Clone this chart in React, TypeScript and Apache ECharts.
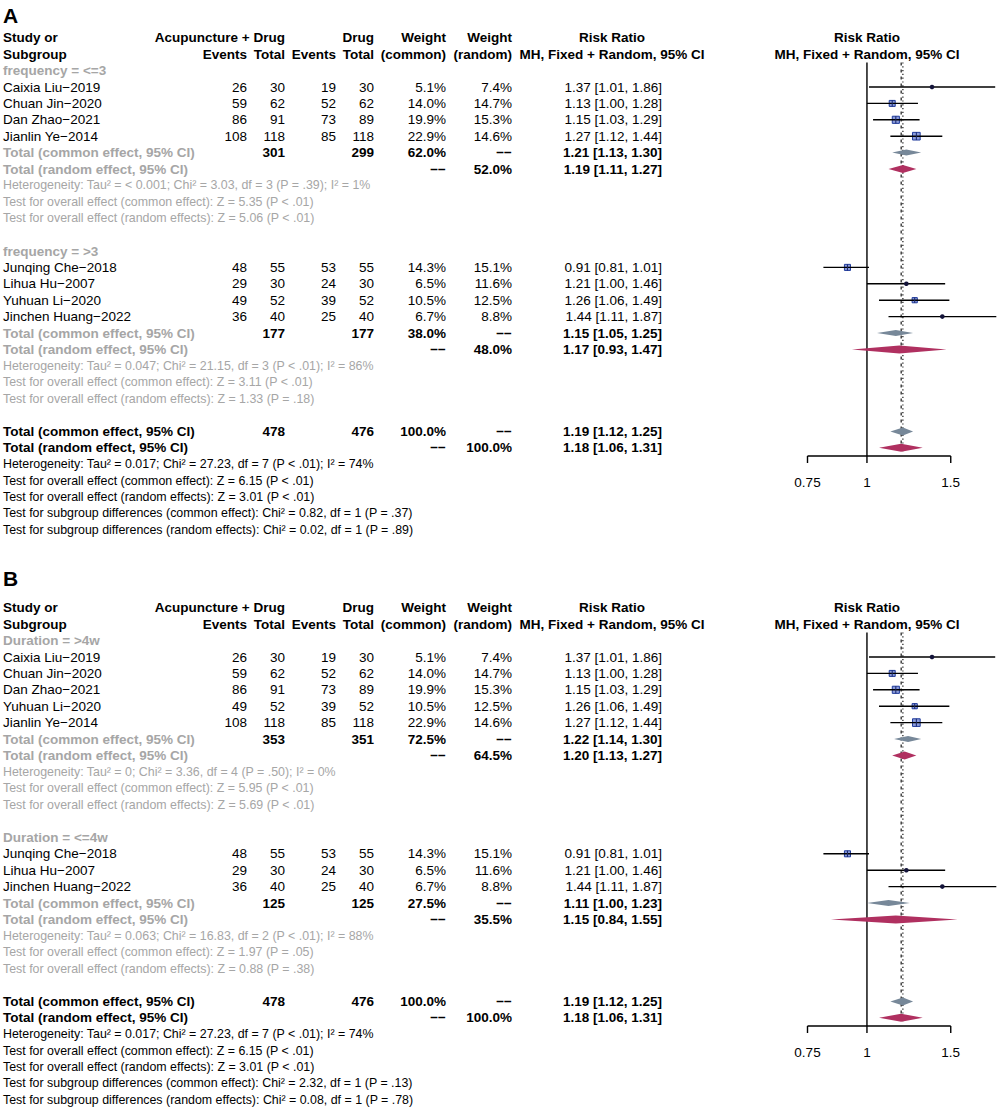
import React, { useEffect, useRef } from "react";
import * as echarts from "echarts";

// ---------- data ----------
const studies = [
  "Caixia Liu−2019",
  "Chuan Jin−2020",
  "Dan Zhao−2021",
  "Jianlin Ye−2014",
  "Junqing Che−2018",
  "Lihua Hu−2007",
  "Yuhuan Li−2020",
  "Jinchen Huang−2022",
];
const eventsExp = [26, 59, 86, 108, 48, 29, 49, 36];
const totalExp = [30, 62, 91, 118, 55, 30, 52, 40];
const eventsCtl = [19, 52, 73, 85, 53, 24, 39, 25];
const totalCtl = [30, 62, 89, 118, 55, 30, 52, 40];
const weightCommon = [5.1, 14.0, 19.9, 22.9, 14.3, 6.5, 10.5, 6.7];
const weightRandom = [7.4, 14.7, 15.3, 14.6, 15.1, 11.6, 12.5, 8.8];
const riskRatio = [1.37, 1.13, 1.15, 1.27, 0.91, 1.21, 1.26, 1.44];
const ciLower = [1.01, 1.0, 1.03, 1.12, 0.81, 1.0, 1.06, 1.11];
const ciUpper = [1.86, 1.28, 1.29, 1.44, 1.01, 1.46, 1.49, 1.87];

// panel A
const groupsA = [[0, 1, 2, 3], [4, 5, 6, 7]];
const groupLabelsA = ["frequency = <=3", "frequency = >3"];
const groupTotalExpA = [301, 177];
const groupTotalCtlA = [299, 177];
const groupWeightCommonA = [62.0, 38.0];
const groupWeightRandomA = [52.0, 48.0];
const groupCommonA = [[1.21, 1.13, 1.3], [1.15, 1.05, 1.25]];
const groupRandomA = [[1.19, 1.11, 1.27], [1.17, 0.93, 1.47]];
const groupHetA = [
  "Heterogeneity: Tau² = < 0.001; Chi² = 3.03, df = 3 (P = .39); I² = 1%",
  "Heterogeneity: Tau² = 0.047; Chi² = 21.15, df = 3 (P < .01); I² = 86%",
];
const groupTestCommonA = [
  "Test for overall effect (common effect): Z = 5.35 (P < .01)",
  "Test for overall effect (common effect): Z = 3.11 (P < .01)",
];
const groupTestRandomA = [
  "Test for overall effect (random effects): Z = 5.06 (P < .01)",
  "Test for overall effect (random effects): Z = 1.33 (P = .18)",
];
const subgroupDiffA = [
  "Test for subgroup differences (common effect): Chi² = 0.82, df = 1 (P = .37)",
  "Test for subgroup differences (random effects): Chi² = 0.02, df = 1 (P = .89)",
];

// panel B
const groupsB = [[0, 1, 2, 6, 3], [4, 5, 7]];
const groupLabelsB = ["Duration = >4w", "Duration = <=4w"];
const groupTotalExpB = [353, 125];
const groupTotalCtlB = [351, 125];
const groupWeightCommonB = [72.5, 27.5];
const groupWeightRandomB = [64.5, 35.5];
const groupCommonB = [[1.22, 1.14, 1.3], [1.11, 1.0, 1.23]];
const groupRandomB = [[1.2, 1.13, 1.27], [1.15, 0.84, 1.55]];
const groupHetB = [
  "Heterogeneity: Tau² = 0; Chi² = 3.36, df = 4 (P = .50); I² = 0%",
  "Heterogeneity: Tau² = 0.063; Chi² = 16.83, df = 2 (P < .01); I² = 88%",
];
const groupTestCommonB = [
  "Test for overall effect (common effect): Z = 5.95 (P < .01)",
  "Test for overall effect (common effect): Z = 1.97 (P = .05)",
];
const groupTestRandomB = [
  "Test for overall effect (random effects): Z = 5.69 (P < .01)",
  "Test for overall effect (random effects): Z = 0.88 (P = .38)",
];
const subgroupDiffB = [
  "Test for subgroup differences (common effect): Chi² = 2.32, df = 1 (P = .13)",
  "Test for subgroup differences (random effects): Chi² = 0.08, df = 1 (P = .78)",
];

// overall (same in both panels)
const overallTotalExp = 478;
const overallTotalCtl = 476;
const overallCommon = [1.19, 1.12, 1.25];
const overallRandom = [1.18, 1.06, 1.31];
const overallHet = "Heterogeneity: Tau² = 0.017; Chi² = 27.23, df = 7 (P < .01); I² = 74%";
const overallTests = [
  "Test for overall effect (common effect): Z = 6.15 (P < .01)",
  "Test for overall effect (random effects): Z = 3.01 (P < .01)",
];

const panelLabels = ["A", "B"];
const tickValues = [0.75, 1, 1.5];
const tickLabels = ["0.75", "1", "1.5"];

// ---------- layout / style ----------
const FONT = '"Liberation Sans", Arial, Helvetica, sans-serif';
const FS = 13.5;
const FS_SMALL = 12.4;
const GRAY = "#a6a6a6";
const DASH = "−−";
const COL = { study: 3, ee: 247, te: 285, ec: 336, tc: 374, wc: 446, wr: 512, rr: 662, rrHead: 612, plotHead: 867 };

type Cell = { t: string; x: number; a: string; b?: boolean; c?: string; s?: number };
type Row = { row: number; cells: Cell[] };

const pct = (v: number) => v.toFixed(1) + "%";
const ci = (v: number[]) => `${v[0].toFixed(2)} [${v[1].toFixed(2)}, ${v[2].toFixed(2)}]`;

function buildPanel(
  groups: number[][],
  labels: string[],
  gTotE: number[],
  gTotC: number[],
  gWC: number[],
  gWR: number[],
  gCom: number[][],
  gRan: number[][],
  gHet: string[],
  gTC: string[],
  gTR: string[],
  subDiff: string[]
) {
  const rows: Row[] = [];
  const marks: number[][] = [];
  const diamonds: number[][] = [];
  rows.push({
    row: -3,
    cells: [
      { t: "Study or", x: COL.study, a: "left", b: true },
      { t: "Acupuncture + Drug", x: COL.te, a: "right", b: true },
      { t: "Drug", x: COL.tc, a: "right", b: true },
      { t: "Weight", x: COL.wc, a: "right", b: true },
      { t: "Weight", x: COL.wr, a: "right", b: true },
      { t: "Risk Ratio", x: COL.rrHead, a: "center", b: true },
      { t: "Risk Ratio", x: COL.plotHead, a: "center", b: true },
    ],
  });
  rows.push({
    row: -2,
    cells: [
      { t: "Subgroup", x: COL.study, a: "left", b: true },
      { t: "Events", x: COL.ee, a: "right", b: true },
      { t: "Total", x: COL.te, a: "right", b: true },
      { t: "Events", x: COL.ec, a: "right", b: true },
      { t: "Total", x: COL.tc, a: "right", b: true },
      { t: "(common)", x: COL.wc, a: "right", b: true },
      { t: "(random)", x: COL.wr, a: "right", b: true },
      { t: "MH, Fixed + Random, 95% CI", x: COL.rrHead, a: "center", b: true },
      { t: "MH, Fixed + Random, 95% CI", x: COL.plotHead, a: "center", b: true },
    ],
  });
  let r = -1;
  groups.forEach((g, gi) => {
    rows.push({ row: r, cells: [{ t: labels[gi], x: COL.study, a: "left", b: true, c: GRAY }] });
    r++;
    g.forEach((si) => {
      rows.push({
        row: r,
        cells: [
          { t: studies[si], x: COL.study, a: "left" },
          { t: String(eventsExp[si]), x: COL.ee, a: "right" },
          { t: String(totalExp[si]), x: COL.te, a: "right" },
          { t: String(eventsCtl[si]), x: COL.ec, a: "right" },
          { t: String(totalCtl[si]), x: COL.tc, a: "right" },
          { t: pct(weightCommon[si]), x: COL.wc, a: "right" },
          { t: pct(weightRandom[si]), x: COL.wr, a: "right" },
          { t: ci([riskRatio[si], ciLower[si], ciUpper[si]]), x: COL.rr, a: "right" },
        ],
      });
      marks.push([riskRatio[si], r, ciLower[si], ciUpper[si], weightCommon[si]]);
      r++;
    });
    rows.push({
      row: r,
      cells: [
        { t: "Total (common effect, 95% CI)", x: COL.study, a: "left", b: true, c: GRAY },
        { t: String(gTotE[gi]), x: COL.te, a: "right", b: true },
        { t: String(gTotC[gi]), x: COL.tc, a: "right", b: true },
        { t: pct(gWC[gi]), x: COL.wc, a: "right", b: true },
        { t: DASH, x: COL.wr, a: "right", b: true },
        { t: ci(gCom[gi]), x: COL.rr, a: "right", b: true },
      ],
    });
    diamonds.push([gCom[gi][0], r, gCom[gi][1], gCom[gi][2], 0, 6]);
    rows.push({
      row: r + 1,
      cells: [
        { t: "Total (random effect, 95% CI)", x: COL.study, a: "left", b: true, c: GRAY },
        { t: DASH, x: COL.wc, a: "right", b: true },
        { t: pct(gWR[gi]), x: COL.wr, a: "right", b: true },
        { t: ci(gRan[gi]), x: COL.rr, a: "right", b: true },
      ],
    });
    diamonds.push([gRan[gi][0], r + 1, gRan[gi][1], gRan[gi][2], 1, 8]);
    rows.push({ row: r + 2, cells: [{ t: gHet[gi], x: COL.study, a: "left", c: GRAY, s: FS_SMALL }] });
    rows.push({ row: r + 3, cells: [{ t: gTC[gi], x: COL.study, a: "left", c: GRAY, s: FS_SMALL }] });
    rows.push({ row: r + 4, cells: [{ t: gTR[gi], x: COL.study, a: "left", c: GRAY, s: FS_SMALL }] });
    r += 6;
  });
  rows.push({
    row: r,
    cells: [
      { t: "Total (common effect, 95% CI)", x: COL.study, a: "left", b: true },
      { t: String(overallTotalExp), x: COL.te, a: "right", b: true },
      { t: String(overallTotalCtl), x: COL.tc, a: "right", b: true },
      { t: pct(100), x: COL.wc, a: "right", b: true },
      { t: DASH, x: COL.wr, a: "right", b: true },
      { t: ci(overallCommon), x: COL.rr, a: "right", b: true },
    ],
  });
  diamonds.push([overallCommon[0], r, overallCommon[1], overallCommon[2], 0, 8]);
  rows.push({
    row: r + 1,
    cells: [
      { t: "Total (random effect, 95% CI)", x: COL.study, a: "left", b: true },
      { t: DASH, x: COL.wc, a: "right", b: true },
      { t: pct(100), x: COL.wr, a: "right", b: true },
      { t: ci(overallRandom), x: COL.rr, a: "right", b: true },
    ],
  });
  diamonds.push([overallRandom[0], r + 1, overallRandom[1], overallRandom[2], 1, 8]);
  rows.push({ row: r + 2, cells: [{ t: overallHet, x: COL.study, a: "left", s: FS_SMALL }] });
  rows.push({ row: r + 3, cells: [{ t: overallTests[0], x: COL.study, a: "left", s: FS_SMALL }] });
  rows.push({ row: r + 4, cells: [{ t: overallTests[1], x: COL.study, a: "left", s: FS_SMALL }] });
  rows.push({ row: r + 5, cells: [{ t: subDiff[0], x: COL.study, a: "left", s: FS_SMALL }] });
  rows.push({ row: r + 6, cells: [{ t: subDiff[1], x: COL.study, a: "left", s: FS_SMALL }] });
  const axisRow = r + 1.5;
  return { rows, marks, diamonds, axisRow, topRow: -1.5 };
}

const panels = [
  buildPanel(groupsA, groupLabelsA, groupTotalExpA, groupTotalCtlA, groupWeightCommonA, groupWeightRandomA,
    groupCommonA, groupRandomA, groupHetA, groupTestCommonA, groupTestRandomA, subgroupDiffA),
  buildPanel(groupsB, groupLabelsB, groupTotalExpB, groupTotalCtlB, groupWeightCommonB, groupWeightRandomB,
    groupCommonB, groupRandomB, groupHetB, groupTestCommonB, groupTestRandomB, subgroupDiffB),
];

function textEl(x: number, y: number, t: string, align: string, bold?: boolean, color?: string, size?: number) {
  return {
    type: "text",
    x,
    y,
    style: {
      text: t,
      fill: color || "#000",
      fontSize: size || FS,
      fontWeight: bold ? "bold" : "normal",
      fontFamily: FONT,
      align,
      textAlign: align,
      verticalAlign: "middle",
      textVerticalAlign: "middle",
    },
  };
}

function buildOption() {
  const series: any[] = [];
  panels.forEach((p, pi) => {
    const ax = { xAxisIndex: pi, yAxisIndex: pi, clip: false, silent: true, encode: { x: 0, y: 1 } };
    // reference lines
    series.push({
      ...ax,
      type: "custom",
      z: 1,
      data: [
        [1, p.topRow, p.axisRow, 0],
        [overallCommon[0], p.topRow, p.axisRow - 0.25, 1],
        [overallRandom[0], p.topRow, p.axisRow - 0.25, 2],
      ],
      renderItem: (_params: any, api: any) => {
        const x = api.value(0);
        const kind = api.value(3);
        const a = api.coord([x, api.value(1)]);
        const b = api.coord([x, api.value(2)]);
        return {
          type: "line",
          shape: { x1: a[0], y1: a[1], x2: b[0], y2: b[1] },
          style: {
            stroke: "#000",
            lineWidth: kind === 0 ? 1.4 : 1.1,
            lineDash: kind === 0 ? null : kind === 1 ? [1.2, 2.6] : [3, 4],
          },
        };
      },
    });
    // study CIs and squares
    series.push({
      ...ax,
      type: "custom",
      z: 3,
      data: p.marks,
      renderItem: (_params: any, api: any) => {
        const est = api.value(0);
        const row = api.value(1);
        const w = api.value(4);
        const c = api.coord([est, row]);
        const xl = api.coord([api.value(2), row])[0];
        const xh = api.coord([api.value(3), row])[0];
        const side = 1.6 * Math.sqrt(w);
        const children: any[] = [];
        if (w >= 8) {
          children.push({
            type: "rect",
            shape: { x: c[0] - side / 2, y: c[1] - side / 2, width: side, height: side },
            style: { fill: "#8c9ddb", stroke: "#1f3a9c", lineWidth: 1 },
          });
        }
        children.push({
          type: "line",
          shape: { x1: xl, y1: c[1], x2: xh, y2: c[1] },
          style: { stroke: "#000", lineWidth: 1.4 },
        });
        if (w >= 8) {
          children.push({
            type: "line",
            shape: { x1: c[0], y1: c[1] - side / 2, x2: c[0], y2: c[1] + side / 2 },
            style: { stroke: "#16246a", lineWidth: 1 },
          });
        } else {
          children.push({ type: "circle", shape: { cx: c[0], cy: c[1], r: 2.3 }, style: { fill: "#14143a" } });
        }
        return { type: "group", children };
      },
    });
    // diamonds
    series.push({
      ...ax,
      type: "custom",
      z: 4,
      data: p.diamonds,
      renderItem: (_params: any, api: any) => {
        const row = api.value(1);
        const c = api.coord([api.value(0), row]);
        const xl = api.coord([api.value(2), row])[0];
        const xh = api.coord([api.value(3), row])[0];
        const h = api.value(5) / 2;
        return {
          type: "polygon",
          shape: { points: [[xl, c[1]], [c[0], c[1] - h], [xh, c[1]], [c[0], c[1] + h]] },
          style: { fill: api.value(4) === 0 ? "#778899" : "#b03060", stroke: "none" },
        };
      },
    });
    // x axis line
    series.push({
      ...ax,
      type: "custom",
      z: 2,
      data: [[tickValues[0], p.axisRow, tickValues[tickValues.length - 1]]],
      renderItem: (_params: any, api: any) => {
        const a = api.coord([api.value(0), api.value(1)]);
        const b = api.coord([api.value(2), api.value(1)]);
        return {
          type: "line",
          shape: { x1: a[0], y1: a[1], x2: b[0], y2: b[1] },
          style: { stroke: "#000", lineWidth: 1.4 },
        };
      },
    });
    // ticks + labels
    series.push({
      ...ax,
      type: "custom",
      z: 2,
      data: tickValues.map((v) => [v, p.axisRow]),
      renderItem: (params: any, api: any) => {
        const a = api.coord([api.value(0), api.value(1)]);
        const ly = api.coord([api.value(0), p.axisRow + 1.6])[1];
        return {
          type: "group",
          children: [
            { type: "line", shape: { x1: a[0], y1: a[1], x2: a[0], y2: a[1] + 7 }, style: { stroke: "#000", lineWidth: 1.4 } },
            textEl(a[0], ly, tickLabels[params.dataIndex], "center"),
          ],
        };
      },
    });
    // table text
    series.push({
      ...ax,
      type: "custom",
      z: 5,
      data: p.rows.map((r) => [1, r.row]),
      renderItem: (params: any, api: any) => {
        const row = p.rows[params.dataIndex];
        const y = api.coord([1, api.value(1)])[1];
        return {
          type: "group",
          children: row.cells.map((c) => textEl(c.x, y, c.t, c.a, c.b, c.c, c.s)),
        };
      },
    });
  });

  return {
    animation: false,
    grid: [0, 1].map((i) => ({ left: 807.5, width: 192.1, top: [37.8, 607.8][i], height: 492 })),
    xAxis: [0, 1].map((i) => ({ type: "log", logBase: 10, min: 0.75, max: 1.9, gridIndex: i, show: false })),
    yAxis: [0, 1].map((i) => ({ type: "value", min: -3, max: 27, inverse: true, gridIndex: i, show: false })),
    series,
    graphic: panelLabels.map((t, i) => ({
      type: "text",
      x: 3,
      y: [15.5, 578][i],
      style: {
        text: t,
        fill: "#000",
        fontSize: 21,
        fontWeight: "bold",
        fontFamily: FONT,
        verticalAlign: "middle",
        textVerticalAlign: "middle",
      },
    })),
  };
}

export default function App() {
  const ref = useRef<HTMLDivElement>(null);
  useEffect(() => {
    if (!ref.current) return;
    const chart = echarts.init(ref.current, undefined, { renderer: "svg" });
    chart.setOption(buildOption() as any);
    return () => chart.dispose();
  }, []);
  return (
    <div
      ref={ref}
      style={{ position: "absolute", left: 0, top: 0, width: 1000, height: 1107, background: "#fff" }}
    />
  );
}
